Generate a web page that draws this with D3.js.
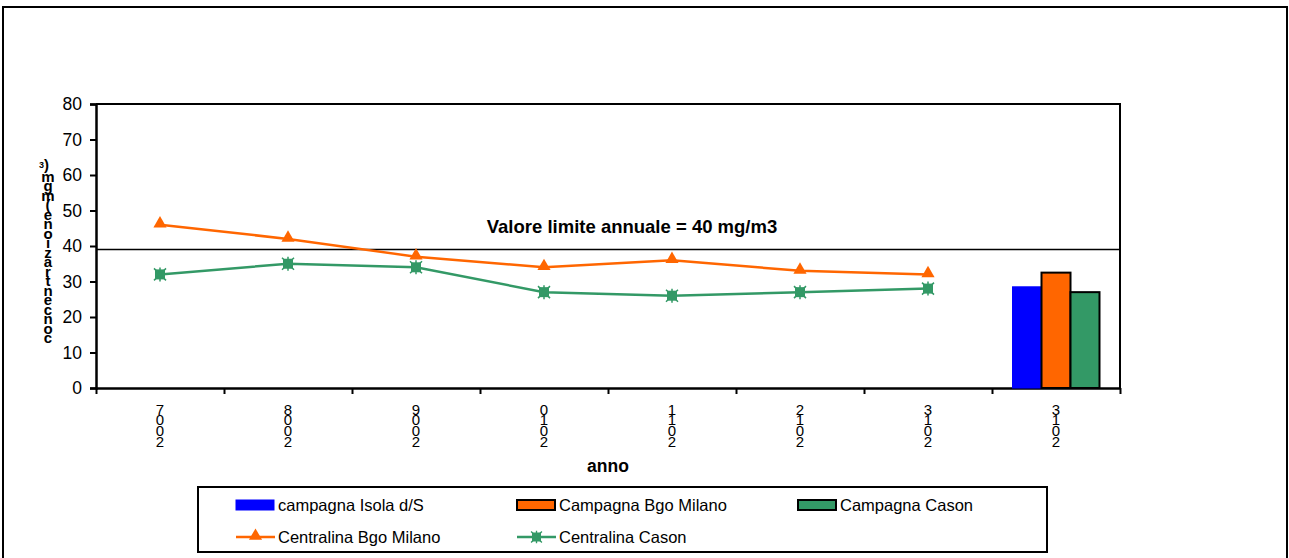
<!DOCTYPE html>
<html>
<head>
<meta charset="utf-8">
<script src="https://cdn.jsdelivr.net/npm/d3@7"></script>
<style>
  body { margin: 0; background: #fff; }
  svg { display: block; font-family: "Liberation Sans", Arial, sans-serif; }
</style>
</head>
<body>
<div id="chart"></div>
<script>
// data
const years = ["2007", "2008", "2009", "2010", "2011", "2012", "2013", "2013 "];
const centralinaBgoMilano = [46, 42, 37, 34, 36, 33, 32];
const centralinaCason = [32, 35, 34, 27, 26, 27, 28];
const campagnaLabels = ["campagna Isola d/S", "Campagna Bgo Milano", "Campagna Cason"];
const campagnaValues = [28.5, 32.5, 27];
const lineLabels = ["Centralina Bgo Milano", "Centralina Cason"];
const limitLine = 39;
const limitLabel = "Valore limite annuale = 40 mg/m3";
const yTicks = [0, 10, 20, 30, 40, 50, 60, 70, 80];
const yTitle = "concentrazione (mgm3)";
const xTitle = "anno";

// dimensions
const W = 1289;
const H = 558;
const M = { left: 96, right: 169, top: 104, bottom: 170 };
const innerW = W - M.left - M.right;
const innerH = H - M.top - M.bottom;

const ORANGE = "#ff6600";
const GREEN = "#339966";
const BLUE = "#0000ff";

const $svg = d3.select("#chart").append("svg")
  .attr("width", W).attr("height", H);

// outer frame (bottom edge falls outside the window)
$svg.append("rect")
  .attr("x", 3).attr("y", 7)
  .attr("width", W - 5).attr("height", H + 10)
  .attr("fill", "none").attr("stroke", "#000").attr("stroke-width", 2);

const $vis = $svg.append("g").attr("transform", `translate(${M.left},${M.top})`);

// scales
const x = d3.scaleBand().domain(years).range([0, innerW]).padding(0);
const xEdge = d3.scaleLinear().domain([0, years.length]).range([0, innerW]);
const y = d3.scaleLinear().domain([0, 80]).range([innerH, 0]);

// plot border (top and right)
$vis.append("path")
  .attr("d", `M0,0H${innerW}V${innerH}`)
  .attr("fill", "none").attr("stroke", "#000").attr("stroke-width", 2);

// y axis
const $yAxis = $vis.append("g")
  .call(d3.axisLeft(y).tickValues(yTicks).tickSize(6).tickPadding(8));
$yAxis.select(".domain").attr("stroke-width", 2.5);
$yAxis.selectAll(".tick line").attr("stroke-width", 2);
$yAxis.selectAll(".tick text")
  .attr("font-size", 17.5).attr("fill", "#000")
  .style("font-family", "'Liberation Sans', Arial, sans-serif");

// x axis: ticks at the category edges
const $xAxis = $vis.append("g")
  .attr("transform", `translate(0,${innerH})`)
  .call(d3.axisBottom(xEdge).tickValues(d3.range(years.length + 1)).tickFormat("").tickSize(6).tickSizeOuter(0));
$xAxis.select(".domain").attr("stroke-width", 2.5);
$xAxis.selectAll(".tick line").attr("stroke-width", 2);

// stacked year labels (read bottom to top)
const $xLabels = $vis.append("g").attr("class", "x-labels");
years.forEach(yr => {
  const chars = yr.trim().split("").reverse();
  const cx = x(yr) + x.bandwidth() / 2;
  chars.forEach((ch, i) => {
    $xLabels.append("text")
      .attr("x", cx).attr("y", innerH + 26.5 + i * 10.8)
      .attr("text-anchor", "middle")
      .attr("font-size", 15)
      .text(ch);
  });
});

// axis titles
$vis.append("text")
  .attr("x", innerW / 2).attr("y", innerH + 84)
  .attr("text-anchor", "middle")
  .attr("font-size", 17.5).attr("font-weight", "bold")
  .text(xTitle);

const $yTitle = $svg.append("g").attr("class", "y-title");
const yChars = yTitle.replace(" ", "").split("");
const tail = yChars.splice(yChars.length - 2, 2); // "3)"
yChars.forEach((ch, i) => {
  $yTitle.append("text")
    .attr("x", 48).attr("y", 343 - i * 9.5)
    .attr("text-anchor", "middle")
    .attr("font-size", 15).attr("font-weight", "bold")
    .text(ch);
});
$yTitle.append("text")
  .attr("x", 44).attr("y", 170)
  .attr("text-anchor", "middle")
  .attr("font-size", 15).attr("font-weight", "bold")
  .html(`<tspan font-size="9" dy="-2">${tail[0]}</tspan><tspan dy="2">${tail[1]}</tspan>`);

// limit line
$vis.append("line")
  .attr("x1", 0).attr("x2", innerW)
  .attr("y1", y(limitLine)).attr("y2", y(limitLine))
  .attr("stroke", "#000").attr("stroke-width", 1.6);
$vis.append("text")
  .attr("x", 536).attr("y", y(limitLine) - 16.5)
  .attr("text-anchor", "middle")
  .attr("font-size", 18.5).attr("font-weight", "bold")
  .text(limitLabel);

// bars in last category
const lastYear = years[years.length - 1];
const barW = 29;
const barColors = [BLUE, ORANGE, GREEN];
const barStart = x(lastYear) + x.bandwidth() / 2 - barW * 1.5;
$vis.selectAll(".bar")
  .data(campagnaValues)
  .join("rect")
  .attr("class", "bar")
  .attr("x", (d, i) => barStart + i * barW)
  .attr("y", d => y(d))
  .attr("width", barW)
  .attr("height", d => innerH - y(d))
  .attr("fill", (d, i) => barColors[i])
  .attr("stroke", (d, i) => (i === 0 ? BLUE : "#000"))
  .attr("stroke-width", (d, i) => (i === 0 ? 1 : 2));

// lines
const cx = (d, i) => x(years[i]) + x.bandwidth() / 2;
const line = d3.line().x(cx).y(d => y(d));

$vis.append("path")
  .datum(centralinaBgoMilano)
  .attr("d", line)
  .attr("fill", "none").attr("stroke", ORANGE).attr("stroke-width", 2.5);
$vis.append("path")
  .datum(centralinaCason)
  .attr("d", line)
  .attr("fill", "none").attr("stroke", GREEN).attr("stroke-width", 2.5);

const tri = d3.symbol().type(d3.symbolTriangle).size(75);
$vis.selectAll(".tri")
  .data(centralinaBgoMilano)
  .join("path")
  .attr("class", "tri")
  .attr("transform", (d, i) => `translate(${cx(d, i)},${y(d) - 1})`)
  .attr("d", tri)
  .attr("fill", ORANGE);

function starMarker($g) {
  $g.append("rect").attr("x", -5).attr("y", -5).attr("width", 10).attr("height", 10).attr("fill", GREEN);
  $g.append("path").attr("d", "M-6,-6L6,6M-6,6L6,-6M0,-7V7").attr("stroke", GREEN).attr("stroke-width", 1.5);
}
$vis.selectAll(".star")
  .data(centralinaCason)
  .join("g")
  .attr("class", "star")
  .attr("transform", (d, i) => `translate(${cx(d, i)},${y(d)})`)
  .each(function () { starMarker(d3.select(this)); });

// legend
const $legend = $svg.append("g").attr("class", "legend");
$legend.append("rect")
  .attr("x", 198).attr("y", 487).attr("width", 849).attr("height", 65)
  .attr("fill", "#fff").attr("stroke", "#000").attr("stroke-width", 2);

const legendItems = [
  { label: campagnaLabels[0], type: "bar", color: BLUE, border: BLUE },
  { label: campagnaLabels[1], type: "bar", color: ORANGE, border: "#000" },
  { label: campagnaLabels[2], type: "bar", color: GREEN, border: "#000" },
  { label: lineLabels[0], type: "tri", color: ORANGE },
  { label: lineLabels[1], type: "star", color: GREEN }
];
const colX = [236, 517, 798];
const rowY = [505, 537];
legendItems.forEach((d, i) => {
  const lx = colX[i % 3];
  const ly = rowY[Math.floor(i / 3)];
  const $it = $legend.append("g").attr("transform", `translate(${lx},${ly})`);
  if (d.type === "bar") {
    $it.append("rect").attr("x", 0).attr("y", -5).attr("width", 38).attr("height", 10)
      .attr("fill", d.color).attr("stroke", d.border).attr("stroke-width", d.border === "#000" ? 2 : 1);
  } else {
    $it.append("line").attr("x1", 0).attr("x2", 39).attr("y1", 0).attr("y2", 0)
      .attr("stroke", d.color).attr("stroke-width", 2.5);
    if (d.type === "tri") {
      $it.append("path").attr("transform", "translate(19.5,-1)").attr("d", tri).attr("fill", d.color);
    } else {
      const $m = $it.append("g").attr("transform", "translate(19.5,0) scale(0.9)");
      starMarker($m);
    }
  }
  $it.append("text")
    .attr("x", 42).attr("y", 6)
    .attr("font-size", 16.5)
    .text(d.label);
});
</script>
</body>
</html>
